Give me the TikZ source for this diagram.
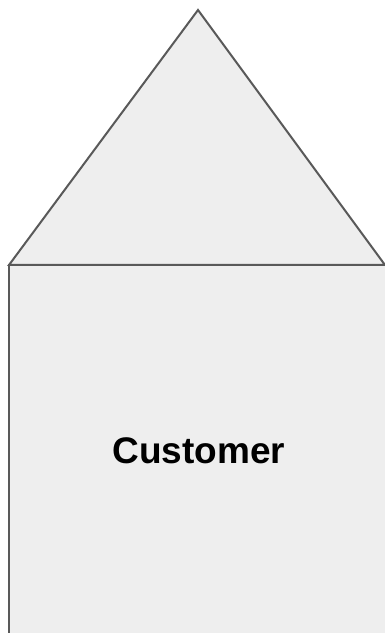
\documentclass[tikz,border=0pt]{standalone}
\usepackage{fontspec}
\setmainfont{Liberation Sans}
\usetikzlibrary{positioning}
\definecolor{HouseFill}{HTML}{EEEEEE}
\definecolor{HouseLine}{HTML}{595959}

\begin{document}
\begin{tikzpicture}[x=1pt, y=1pt,
    part/.style={fill=HouseFill, draw=HouseLine, line width=2pt, line join=miter}]
        % Frame
        \useasboundingbox (0,0) rectangle (385,633);
        \clip (0,0) rectangle (385,633);

        % Corners of the house
        \coordinate (roofTop) at (198,623);
        \coordinate (roofLeft) at (9,368);
        \coordinate (roofRight) at (385,368);
        \coordinate (baseLeft) at (9,-10);
        \coordinate (baseRight) at (392,-10);

        % Body and roof
        \draw[part] (baseLeft) rectangle (roofRight -| baseRight);
        \draw[part] (roofLeft) -- (roofTop) -- (roofRight) -- cycle;

        % Label
        \node[font=\bfseries\fontsize{37}{41}\selectfont] (customer) at (199,182) {Customer};

    \end{tikzpicture}
\end{document}
